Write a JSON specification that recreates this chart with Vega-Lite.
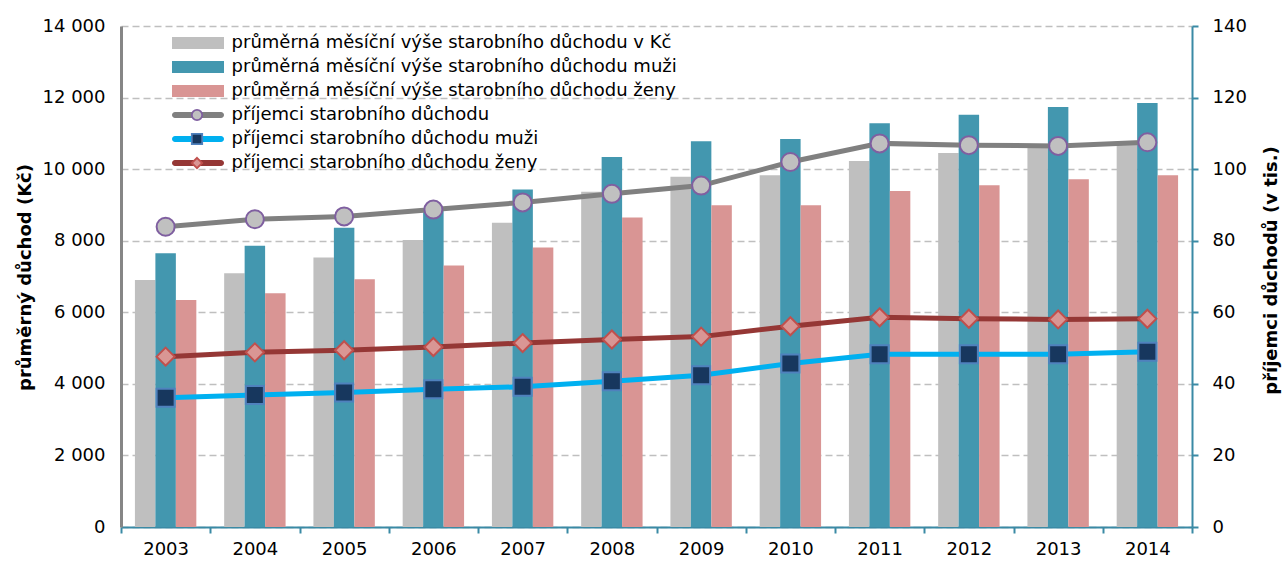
{
  "$schema": "https://vega.github.io/schema/vega-lite/v6.json",
  "width": 1071,
  "height": 501,
  "autosize": {"type": "none"},
  "padding": {"left": 121, "top": 26, "right": 92, "bottom": 34},
  "background": "white",
  "config": {
    "font": "DejaVu Sans",
    "view": {"stroke": null},
    "axis": {"labelFont": "DejaVu Sans", "labelFontSize": 18, "labelColor": "#000000", "titleFont": "DejaVu Sans", "titleFontSize": 18, "titleFontWeight": "bold", "titleColor": "#000000"},
    "legend": {"labelFont": "DejaVu Sans", "labelFontSize": 18, "labelColor": "#000000", "symbolSize": 169, "symbolStrokeWidth": 0, "labelOffset": 24.6, "rowPadding": 6, "padding": 0, "labelLimit": 700}
  },
  "datasets": {
    "bars": [
      {"year": "2003", "series": "průměrná měsíční výše starobního důchodu v Kč", "value": 6900},
      {"year": "2003", "series": "průměrná měsíční výše starobního důchodu muži", "value": 7650},
      {"year": "2003", "series": "průměrná měsíční výše starobního důchodu ženy", "value": 6340},
      {"year": "2004", "series": "průměrná měsíční výše starobního důchodu v Kč", "value": 7090},
      {"year": "2004", "series": "průměrná měsíční výše starobního důchodu muži", "value": 7860},
      {"year": "2004", "series": "průměrná měsíční výše starobního důchodu ženy", "value": 6530},
      {"year": "2005", "series": "průměrná měsíční výše starobního důchodu v Kč", "value": 7530},
      {"year": "2005", "series": "průměrná měsíční výše starobního důchodu muži", "value": 8360},
      {"year": "2005", "series": "průměrná měsíční výše starobního důchodu ženy", "value": 6920},
      {"year": "2006", "series": "průměrná měsíční výše starobního důchodu v Kč", "value": 8020},
      {"year": "2006", "series": "průměrná měsíční výše starobního důchodu muži", "value": 8850},
      {"year": "2006", "series": "průměrná měsíční výše starobního důchodu ženy", "value": 7310},
      {"year": "2007", "series": "průměrná měsíční výše starobního důchodu v Kč", "value": 8500},
      {"year": "2007", "series": "průměrná měsíční výše starobního důchodu muži", "value": 9430},
      {"year": "2007", "series": "průměrná měsíční výše starobního důchodu ženy", "value": 7810},
      {"year": "2008", "series": "průměrná měsíční výše starobního důchodu v Kč", "value": 9370},
      {"year": "2008", "series": "průměrná měsíční výše starobního důchodu muži", "value": 10340},
      {"year": "2008", "series": "průměrná měsíční výše starobního důchodu ženy", "value": 8650},
      {"year": "2009", "series": "průměrná měsíční výše starobního důchodu v Kč", "value": 9790},
      {"year": "2009", "series": "průměrná měsíční výše starobního důchodu muži", "value": 10780},
      {"year": "2009", "series": "průměrná měsíční výše starobního důchodu ženy", "value": 8990},
      {"year": "2010", "series": "průměrná měsíční výše starobního důchodu v Kč", "value": 9830},
      {"year": "2010", "series": "průměrná měsíční výše starobního důchodu muži", "value": 10840},
      {"year": "2010", "series": "průměrná měsíční výše starobního důchodu ženy", "value": 8990},
      {"year": "2011", "series": "průměrná měsíční výše starobního důchodu v Kč", "value": 10230},
      {"year": "2011", "series": "průměrná měsíční výše starobního důchodu muži", "value": 11280},
      {"year": "2011", "series": "průměrná měsíční výše starobního důchodu ženy", "value": 9390},
      {"year": "2012", "series": "průměrná měsíční výše starobního důchodu v Kč", "value": 10450},
      {"year": "2012", "series": "průměrná měsíční výše starobního důchodu muži", "value": 11520},
      {"year": "2012", "series": "průměrná měsíční výše starobního důchodu ženy", "value": 9550},
      {"year": "2013", "series": "průměrná měsíční výše starobního důchodu v Kč", "value": 10650},
      {"year": "2013", "series": "průměrná měsíční výše starobního důchodu muži", "value": 11740},
      {"year": "2013", "series": "průměrná měsíční výše starobního důchodu ženy", "value": 9720},
      {"year": "2014", "series": "průměrná měsíční výše starobního důchodu v Kč", "value": 10720},
      {"year": "2014", "series": "průměrná měsíční výše starobního důchodu muži", "value": 11850},
      {"year": "2014", "series": "průměrná měsíční výše starobního důchodu ženy", "value": 9830}
    ],
    "lines": [
      {"year": "2003", "series": "příjemci starobního důchodu", "value": 83.9},
      {"year": "2004", "series": "příjemci starobního důchodu", "value": 86.0},
      {"year": "2005", "series": "příjemci starobního důchodu", "value": 86.8},
      {"year": "2006", "series": "příjemci starobního důchodu", "value": 88.7},
      {"year": "2007", "series": "příjemci starobního důchodu", "value": 90.7},
      {"year": "2008", "series": "příjemci starobního důchodu", "value": 93.1},
      {"year": "2009", "series": "příjemci starobního důchodu", "value": 95.4},
      {"year": "2010", "series": "příjemci starobního důchodu", "value": 102.0},
      {"year": "2011", "series": "příjemci starobního důchodu", "value": 107.2},
      {"year": "2012", "series": "příjemci starobního důchodu", "value": 106.7},
      {"year": "2013", "series": "příjemci starobního důchodu", "value": 106.5},
      {"year": "2014", "series": "příjemci starobního důchodu", "value": 107.5},
      {"year": "2003", "series": "příjemci starobního důchodu muži", "value": 36.1},
      {"year": "2004", "series": "příjemci starobního důchodu muži", "value": 36.9},
      {"year": "2005", "series": "příjemci starobního důchodu muži", "value": 37.6},
      {"year": "2006", "series": "příjemci starobního důchodu muži", "value": 38.5},
      {"year": "2007", "series": "příjemci starobního důchodu muži", "value": 39.2},
      {"year": "2008", "series": "příjemci starobního důchodu muži", "value": 40.7},
      {"year": "2009", "series": "příjemci starobního důchodu muži", "value": 42.4},
      {"year": "2010", "series": "příjemci starobního důchodu muži", "value": 45.7},
      {"year": "2011", "series": "příjemci starobního důchodu muži", "value": 48.3},
      {"year": "2012", "series": "příjemci starobního důchodu muži", "value": 48.3},
      {"year": "2013", "series": "příjemci starobního důchodu muži", "value": 48.3},
      {"year": "2014", "series": "příjemci starobního důchodu muži", "value": 49.0},
      {"year": "2003", "series": "příjemci starobního důchodu ženy", "value": 47.6},
      {"year": "2004", "series": "příjemci starobního důchodu ženy", "value": 48.8},
      {"year": "2005", "series": "příjemci starobního důchodu ženy", "value": 49.4},
      {"year": "2006", "series": "příjemci starobního důchodu ženy", "value": 50.3},
      {"year": "2007", "series": "příjemci starobního důchodu ženy", "value": 51.4},
      {"year": "2008", "series": "příjemci starobního důchodu ženy", "value": 52.4},
      {"year": "2009", "series": "příjemci starobního důchodu ženy", "value": 53.2},
      {"year": "2010", "series": "příjemci starobního důchodu ženy", "value": 56.1},
      {"year": "2011", "series": "příjemci starobního důchodu ženy", "value": 58.6},
      {"year": "2012", "series": "příjemci starobního důchodu ženy", "value": 58.2},
      {"year": "2013", "series": "příjemci starobního důchodu ženy", "value": 58.0},
      {"year": "2014", "series": "příjemci starobního důchodu ženy", "value": 58.2}
    ]
  },
  "layer": [
    {
      "data": {"name": "bars"},
      "mark": {"type": "bar"},
      "encoding": {
        "x": {"field": "year", "type": "nominal", "scale": {"paddingInner": 0, "paddingOuter": 0},
          "axis": {"title": null, "labelAngle": 0, "domainColor": "#3A8AA5", "domainWidth": 2, "tickColor": "#3A8AA5", "tickWidth": 2, "tickSize": 6, "tickBand": "extent", "labelPadding": 7, "grid": false}},
        "xOffset": {"field": "series", "type": "nominal", "scale": {"domain": ["průměrná měsíční výše starobního důchodu v Kč", "průměrná měsíční výše starobního důchodu muži", "průměrná měsíční výše starobního důchodu ženy"], "paddingInner": 0, "paddingOuter": 0.68}},
        "y": {"field": "value", "type": "quantitative", "scale": {"domain": [0, 14000]},
          "axis": {"title": "průměrný důchod (Kč)", "values": [0, 2000, 4000, 6000, 8000, 10000, 12000, 14000], "labelExpr": "replace(format(datum.value, ','), ',', ' ')", "grid": true, "gridColor": "#BFBFBF", "gridDash": [7, 4], "gridWidth": 1.5, "domainColor": "#868686", "domainWidth": 3, "ticks": false, "labelPadding": 16, "titleAngle": -90, "titleX": -96, "titleY": 251, "titleAlign": "center", "titleBaseline": "middle"}},
        "color": {"field": "series", "type": "nominal",
          "scale": {"domain": ["průměrná měsíční výše starobního důchodu v Kč", "průměrná měsíční výše starobního důchodu muži", "průměrná měsíční výše starobního důchodu ženy", "příjemci starobního důchodu", "příjemci starobního důchodu muži", "příjemci starobního důchodu ženy"], "range": ["#BFBFBF", "#4397AF", "#D99594", "#808080", "#00B0F0", "#953735"]},
          "legend": {"title": null, "orient": "none", "legendX": 68, "legendY": 8, "direction": "vertical",
            "encode": {"symbols": {"update": {
              "shape": {"signal": "indexof(datum.value, 'průměrná') === 0 ? 'M-4,-0.92H4V0.92H-4Z' : 'M-3.54,-0.46H3.54A0.46,0.46 0 0,1 3.54,0.46H-3.54A0.46,0.46 0 0,1 -3.54,-0.46Z'"},
              "fill": {"scale": "color", "field": "value"},
              "stroke": {"value": "transparent"},
              "opacity": {"value": 1}}}}}}
      }
    },
    {
      "data": {"name": "lines"},
      "layer": [
        {
          "mark": {"type": "line", "strokeWidth": 5},
          "encoding": {
            "x": {"field": "year", "type": "nominal"},
            "y": {"field": "value", "type": "quantitative", "scale": {"domain": [0, 140]},
              "axis": {"orient": "right", "title": "příjemci důchodů (v tis.)", "values": [0, 20, 40, 60, 80, 100, 120, 140], "grid": false, "domainColor": "#3A8AA5", "domainWidth": 2, "tickColor": "#3A8AA5", "tickWidth": 2, "tickSize": 6, "labelPadding": 14, "titleAngle": -90, "titleX": 79, "titleY": 244, "titleAlign": "center", "titleBaseline": "middle"}},
            "color": {"field": "series", "type": "nominal",
              "scale": {"domain": ["průměrná měsíční výše starobního důchodu v Kč", "průměrná měsíční výše starobního důchodu muži", "průměrná měsíční výše starobního důchodu ženy", "příjemci starobního důchodu", "příjemci starobního důchodu muži", "příjemci starobního důchodu ženy"], "range": ["#BFBFBF", "#4397AF", "#D99594", "#808080", "#00B0F0", "#953735"]}}
          }
        },
        {
          "mark": {"type": "point", "filled": true, "opacity": 1, "strokeWidth": 2, "size": 506},
          "encoding": {
            "x": {"field": "year", "type": "nominal"},
            "y": {"field": "value", "type": "quantitative"},
            "fill": {"field": "series", "type": "nominal",
              "scale": {"domain": ["p1", "p2", "p3", "příjemci starobního důchodu", "příjemci starobního důchodu muži", "příjemci starobního důchodu ženy"], "range": ["transparent", "transparent", "transparent", "#C0C0C0", "#17375E", "#D99694"]},
              "legend": {"title": null, "orient": "none", "legendX": 67, "legendY": 8, "direction": "vertical", "labelExpr": "''", "symbolStrokeWidth": 1.8}},
            "stroke": {"field": "series", "type": "nominal",
              "scale": {"domain": ["p1", "p2", "p3", "příjemci starobního důchodu", "příjemci starobního důchodu muži", "příjemci starobního důchodu ženy"], "range": ["transparent", "transparent", "transparent", "#7F5FA0", "#4F81BD", "#C0504D"]},
              "legend": {"title": null, "orient": "none", "legendX": 67, "legendY": 8, "direction": "vertical", "labelExpr": "''", "symbolStrokeWidth": 1.8}},
            "shape": {"field": "series", "type": "nominal",
              "scale": {"domain": ["p1", "p2", "p3", "příjemci starobního důchodu", "příjemci starobního důchodu muži", "příjemci starobního důchodu ženy"], "range": ["M0,0Z", "M0,0Z", "M0,0Z", "M-0.8,0A0.8,0.8 0 1,1 0.8,0A0.8,0.8 0 1,1 -0.8,0Z", "M-0.8,-0.8H0.8V0.8H-0.8Z", "M0,-0.8L0.8,0L0,0.8L-0.8,0Z"]},
              "legend": {"title": null, "orient": "none", "legendX": 67, "legendY": 8, "direction": "vertical", "labelExpr": "''", "symbolStrokeWidth": 1.8}}
          }
        }
      ]
    }
  ],
  "resolve": {"scale": {"y": "independent"}}
}
